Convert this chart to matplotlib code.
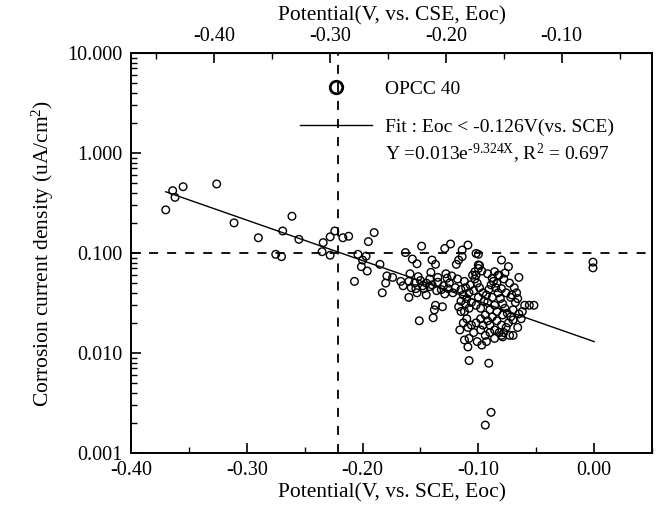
import matplotlib
matplotlib.use("Agg")
import matplotlib.pyplot as plt
from matplotlib.lines import Line2D
from matplotlib.ticker import FixedLocator, LogLocator, FuncFormatter, NullFormatter
import numpy as np

plt.rcParams['font.family'] = ['Liberation Serif', 'DejaVu Serif']
plt.rcParams['mathtext.fontset'] = 'custom'
plt.rcParams['mathtext.rm'] = 'Liberation Serif'
plt.rcParams['mathtext.it'] = 'Liberation Serif:italic'

# potential vs SCE (V) and corrosion current density (uA/cm2)
pot = [
    -0.370, -0.364, -0.362, -0.355, -0.326, -0.311, -0.290, -0.275, -0.270, -0.269,
    -0.261, -0.255, -0.234, -0.235, -0.228, -0.228, -0.224, -0.217, -0.212, -0.190,
    -0.195, -0.204, -0.197, -0.200, -0.201, -0.196, -0.207, -0.185, -0.183, -0.179,
    -0.180, -0.174, -0.167, -0.163, -0.159, -0.157, -0.153, -0.149, -0.160, -0.151,
    -0.154, -0.153, -0.148, -0.145, -0.142, -0.141, -0.140, -0.137, -0.135, -0.139,
    -0.137, -0.138, -0.136, -0.131, -0.128, -0.129, -0.124, -0.123, -0.126, -0.129,
    -0.119, -0.117, -0.114, -0.114, -0.109, -0.112, -0.115, -0.111, -0.115, -0.116,
    -0.112, -0.109, -0.108, -0.102, -0.100, -0.102, -0.100, -0.099, -0.080, -0.074,
    -0.077, -0.086, -0.083, -0.065, -0.067, -0.071, -0.060, -0.056, -0.052, -0.065,
    -0.070, -0.070, -0.079, -0.091, -0.089, -0.094, -0.001, -0.001,
    -0.105, -0.103, -0.101, -0.099, -0.104, -0.108, -0.110, -0.106, -0.102, -0.098,
    -0.095, -0.093, -0.091, -0.089, -0.087, -0.085, -0.083, -0.081, -0.079, -0.077,
    -0.075, -0.086, -0.090, -0.094, -0.098, -0.102, -0.106, -0.110, -0.112, -0.108,
    -0.096, -0.092, -0.088, -0.084, -0.080, -0.076, -0.082, -0.086, -0.090, -0.094,
    -0.098, -0.104, -0.108, -0.101, -0.097, -0.093, -0.078, -0.074, -0.072, -0.070,
    -0.068, -0.072, -0.076, -0.080, -0.084, -0.088, -0.092, -0.097, -0.100, -0.103,
    -0.107, -0.111, -0.113, -0.115, -0.117, -0.113, -0.109, -0.100, -0.096, -0.092,
    -0.088, -0.084, -0.079, -0.090, -0.086, -0.080, -0.073, -0.066, -0.063, -0.062,
    -0.066, -0.069, -0.073, -0.082, -0.078,
    -0.165, -0.160, -0.155, -0.150, -0.145, -0.140, -0.135, -0.130, -0.125, -0.120,
    -0.158, -0.147, -0.132, -0.122, -0.118, -0.142, -0.152, -0.127,
]
icorr = [
    0.270, 0.420, 0.360, 0.460, 0.490, 0.200, 0.142, 0.097, 0.092, 0.166,
    0.233, 0.137, 0.127, 0.103, 0.095, 0.145, 0.166, 0.142, 0.147, 0.160,
    0.130, 0.097, 0.093, 0.085, 0.073, 0.066, 0.052, 0.077, 0.040, 0.059,
    0.050, 0.057, 0.052, 0.101, 0.062, 0.087, 0.078, 0.117, 0.036, 0.021,
    0.044, 0.040, 0.047, 0.038, 0.046, 0.064, 0.085, 0.077, 0.057, 0.0225,
    0.030, 0.027, 0.042, 0.029, 0.062, 0.111, 0.123, 0.059, 0.044, 0.039,
    0.077, 0.085, 0.092, 0.107, 0.120, 0.052, 0.043, 0.031, 0.026, 0.017,
    0.0135, 0.0115, 0.0084, 0.099, 0.076, 0.060, 0.097, 0.075, 0.085, 0.073,
    0.063, 0.065, 0.060, 0.057, 0.040, 0.038, 0.030, 0.030, 0.030, 0.0246,
    0.0214, 0.015, 0.0145, 0.0079, 0.00255, 0.0019, 0.081, 0.071,
    0.060, 0.055, 0.050, 0.045, 0.042, 0.040, 0.035, 0.032, 0.030, 0.028,
    0.033, 0.038, 0.043, 0.048, 0.052, 0.045, 0.040, 0.035, 0.031, 0.028,
    0.025, 0.030, 0.027, 0.024, 0.022, 0.020, 0.019, 0.022, 0.026, 0.028,
    0.019, 0.021, 0.023, 0.021, 0.019, 0.018, 0.016, 0.017, 0.016, 0.015,
    0.017, 0.016, 0.014, 0.013, 0.012, 0.013, 0.016, 0.020, 0.023, 0.027,
    0.032, 0.036, 0.040, 0.044, 0.050, 0.056, 0.062, 0.066, 0.070, 0.065,
    0.048, 0.045, 0.038, 0.033, 0.029, 0.020, 0.018, 0.036, 0.040, 0.032,
    0.036, 0.026, 0.024, 0.019, 0.014, 0.015, 0.015, 0.018, 0.022, 0.026,
    0.035, 0.045, 0.050, 0.060, 0.055,
    0.047, 0.052, 0.050, 0.053, 0.050, 0.048, 0.051, 0.047, 0.050, 0.045,
    0.045, 0.044, 0.043, 0.040, 0.055, 0.055, 0.058, 0.056,
]

# fit given on the chart: Y = 0.013 exp(-9.324 X)
fit_a = 0.013
fit_b = -9.324
fit_x = np.linspace(-0.37, 0.0, 50)
fit_y = fit_a * np.exp(fit_b * fit_x)

e_thresh = -0.221   # vertical dashed line (V vs SCE)
i_thresh = 0.1      # horizontal dashed line
cse_shift = 0.072   # SCE -> CSE

fig = plt.figure(figsize=(6.59, 5.14), dpi=100)
ax = fig.add_axes([0.1988, 0.1187, 0.7906, 0.7782])

ax.scatter(pot, icorr, s=30, facecolors='none', edgecolors='black', linewidths=1.0, zorder=3)
ax.plot(fit_x, fit_y, color='black', lw=1.0, zorder=2)
ax.axhline(i_thresh, color='black', lw=1.3, ls=(0, (5, 5)), zorder=1)
ax.axvline(e_thresh, color='black', lw=1.3, ls=(0, (5, 5)), zorder=1)

ax.set_yscale('log')
ax.set_xlim(-0.40, 0.05)
ax.set_ylim(0.001, 10)

ax.xaxis.set_major_locator(FixedLocator([-0.4, -0.3, -0.2, -0.1, 0.0]))
ax.xaxis.set_minor_locator(FixedLocator([-0.35, -0.25, -0.15, -0.05, 0.05]))
ax.xaxis.set_major_formatter(FuncFormatter(lambda v, p: '%.2f' % v))
ax.yaxis.set_major_locator(LogLocator(base=10))
ax.yaxis.set_minor_locator(LogLocator(base=10, subs=np.arange(2, 10)))
ax.yaxis.set_minor_formatter(NullFormatter())
ax.yaxis.set_major_formatter(FuncFormatter(lambda v, p: '%.3f' % v))

ax.tick_params(which='both', direction='in', labelsize=14.5, right=False, top=False)
ax.tick_params(which='major', length=7, width=1.2)
ax.tick_params(which='minor', length=4, width=1.0)
ax.tick_params(axis='x', which='major', pad=6)
ax.tick_params(axis='y', which='major', pad=6)
for s in ax.spines.values():
    s.set_linewidth(1.4)

ax.set_xlabel('Potential(V, vs. SCE, Eoc)', fontsize=15.5, labelpad=2)
ax.set_ylabel('Corrosion current density (uA/cm$^2$)', fontsize=15.5, labelpad=8)

top = ax.secondary_xaxis('top', functions=(lambda x: x - cse_shift, lambda x: x + cse_shift))
top.xaxis.set_major_locator(FixedLocator([-0.4, -0.3, -0.2, -0.1]))
top.xaxis.set_minor_locator(FixedLocator([-0.45, -0.35, -0.25, -0.15, -0.05]))
top.xaxis.set_major_formatter(FuncFormatter(lambda v, p: '%.2f' % v))
top.tick_params(which='both', direction='in', labelsize=14.5)
top.tick_params(which='major', length=7, width=1.2, pad=5)
top.tick_params(which='minor', length=4, width=1.0)
top.set_xlabel('Potential(V, vs. CSE, Eoc)', fontsize=15.5, labelpad=5)

handles = [
    Line2D([], [], ls='none', marker='o', markersize=9, markerfacecolor='none',
           markeredgecolor='black', markeredgewidth=2.0),
    Line2D([], [], color='black', lw=1.0),
]
labels = ['OPCC 40', 'Fit : Eoc < -0.126V(vs. SCE)']
ax.legend(handles, labels, loc='upper left', bbox_to_anchor=(0.324, 0.932),
          frameon=False, fontsize=14, handlelength=3.7, handletextpad=0.7,
          labelspacing=1.05, borderpad=0, borderaxespad=0)
ax.text(0.487, 0.747, 'Y =0.013e$^{\u2010 9.324\\mathrm{X}}$, R$^2$ = 0.697', transform=ax.transAxes,
        fontsize=14, va='center', ha='left')

fig.savefig('out.png', dpi=100)
